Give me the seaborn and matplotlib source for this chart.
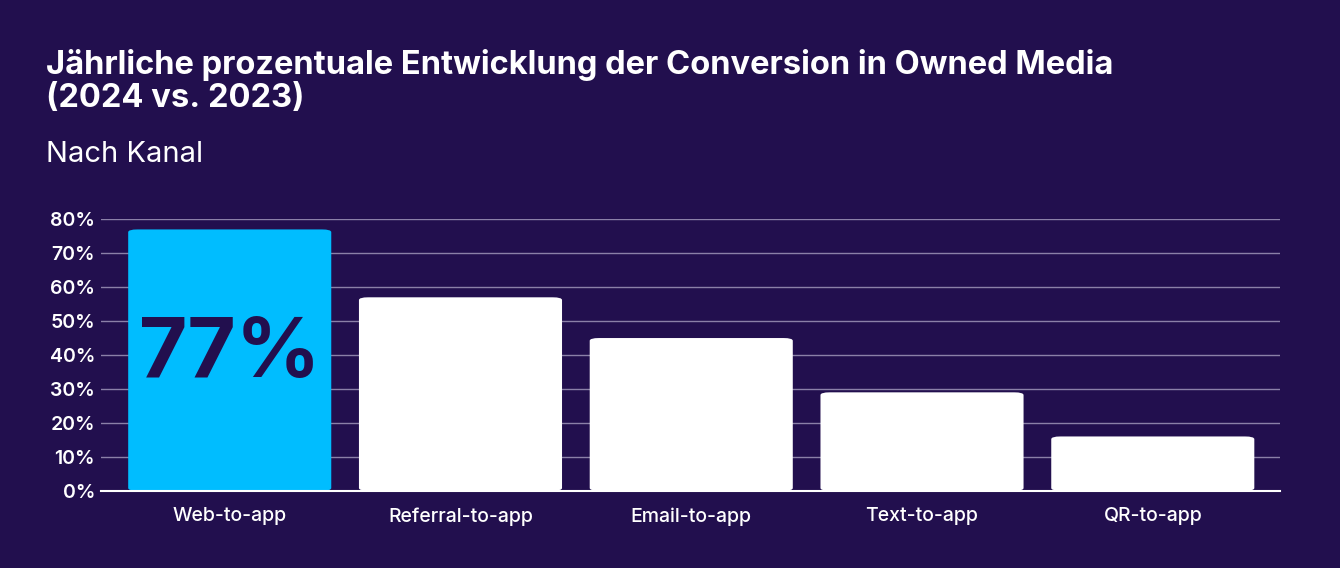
import matplotlib.pyplot as plt
import matplotlib.ticker as mticker
import seaborn as sns
from matplotlib.patches import FancyBboxPatch

BG = '#220F4E'
CYAN = '#00BDFF'

kanaele = ['Web-to-app', 'Referral-to-app', 'Email-to-app', 'Text-to-app', 'QR-to-app']
werte = [77, 57, 45, 29, 16]
yticks = [0, 10, 20, 30, 40, 50, 60, 70, 80]

plt.rcParams['font.family'] = 'Inter'
fig = plt.figure(figsize=(13.4, 5.68), dpi=100, facecolor=BG)
ax = fig.add_axes([0.075, 0.136, 0.88, 0.478], facecolor=BG)

sns.barplot(x=kanaele, y=werte, ax=ax, width=0.88, saturation=1,
            palette=[CYAN] + ['white'] * 4, hue=kanaele, legend=False, zorder=3)

# Balken mit abgerundeten Ecken ersetzen
for i, p in enumerate(list(ax.patches)):
    x, y, w, h = p.get_x(), p.get_y(), p.get_width(), p.get_height()
    p.set_visible(False)
    ax.add_patch(FancyBboxPatch((x, y), w, h, boxstyle='round,pad=0,rounding_size=0.04',
                                mutation_aspect=20, fc=p.get_facecolor(), ec='none', zorder=3))

ax.text(0, 40, '77%', ha='center', va='center', fontsize=60, fontweight='bold',
        color=BG, zorder=4)

ax.set_ylim(0, 80)
ax.set_xlim(-0.56, 4.55)
ax.set_yticks(yticks)
ax.yaxis.set_major_formatter(mticker.FuncFormatter(lambda v, _: f'{v:.0f}%'))
ax.grid(axis='y', color='#8B80A8', linewidth=1, zorder=0)
ax.grid(axis='x', visible=False)
for s in ['top', 'right', 'left']:
    ax.spines[s].set_visible(False)
ax.spines['bottom'].set_color('white')
ax.spines['bottom'].set_linewidth(1.5)
ax.spines['bottom'].set_zorder(5)
ax.tick_params(axis='both', colors='white', labelsize=14, length=0)
ax.tick_params(axis='x', pad=12)
ax.tick_params(axis='y', pad=4)
for t in ax.get_yticklabels():
    t.set_fontweight('semibold')
for t in ax.get_xticklabels():
    t.set_fontweight('medium')

fig.text(0.034, 0.80, 'Jährliche prozentuale Entwicklung der Conversion in Owned Media\n(2024 vs. 2023)',
         color='white', fontsize=23.5, fontweight='bold', va='bottom', linespacing=1.05)
fig.text(0.034, 0.705, 'Nach Kanal', color='white', fontsize=21, fontweight='normal', va='bottom')

plt.savefig('out.png', facecolor=BG)
